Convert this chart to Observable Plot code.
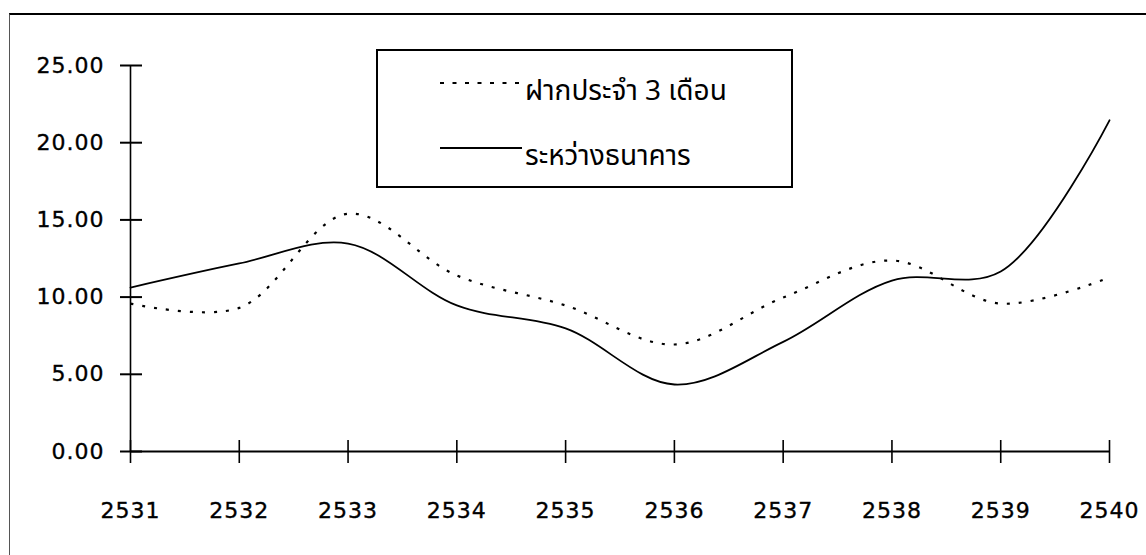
<!DOCTYPE html>
<html>
<head>
<meta charset="utf-8">
<script src="https://cdn.jsdelivr.net/npm/d3@7"></script>
<script src="https://cdn.jsdelivr.net/npm/@observablehq/plot@0.6"></script>
<style>
  html, body { margin: 0; padding: 0; background: #fff; }
  #wrap { position: relative; width: 1146px; height: 555px; overflow: hidden; }
  #frame { position: absolute; left: 9px; top: 13px; width: 1300px; height: 700px;
           border-left: 1.5px solid #555; border-top: 2px solid #000; }
  #chart { position: absolute; left: 0; top: 0; }
  #chart svg text { letter-spacing: 1px; stroke: #000; stroke-width: 0.35px; }
  #legend { position: absolute; left: 376px; top: 49px; }
  #legend text { font-family: "Noto Sans Thai", "Loma", "Garuda", "Norasi", "DejaVu Sans", sans-serif; }
</style>
</head>
<body>
<div id="wrap">
  <div id="frame"></div>
  <div id="chart"></div>
  <div id="legend"></div>
</div>
<script>
// Buddhist-era years on the x axis
const years = [2531, 2532, 2533, 2534, 2535, 2536, 2537, 2538, 2539, 2540];
// 3-month fixed deposit rate (%)
const deposit3m = [9.58, 9.3, 15.4, 11.4, 9.46, 6.93, 9.97, 12.37, 9.58, 11.27];
// Interbank rate (%)
const interbank = [10.62, 12.18, 13.47, 9.46, 7.97, 4.34, 7.1, 11.07, 11.66, 21.45];
// Axis ticks
const yTicks = [0, 5, 10, 15, 20, 25];
const xTicks = years;
// Series names
const seriesDeposit = "ฝากประจำ 3 เดือน";
const seriesInterbank = "ระหว่างธนาคาร";

const rows = [
  ...years.map((year, i) => ({year, value: deposit3m[i], series: seriesDeposit})),
  ...years.map((year, i) => ({year, value: interbank[i], series: seriesInterbank}))
];

const chart = Plot.plot({
  width: 1146,
  height: 555,
  marginLeft: 130,
  marginRight: 37,
  marginTop: 65,
  marginBottom: 104,
  x: {domain: [2531, 2540]},
  y: {domain: [0, 25]},
  style: {fontFamily: "'DejaVu Sans', sans-serif", fontSize: "22px", background: "transparent", color: "#000"},
  marks: [
    // axis lines
    Plot.ruleX([2531], {stroke: "#000", strokeWidth: 1.6}),
    Plot.ruleY([0], {stroke: "#000", strokeWidth: 2}),
    // tick marks crossing the axes
    Plot.axisY({ticks: yTicks, tickSize: 22, dx: 12, tickFormat: () => "", stroke: "#000", strokeWidth: 2, strokeOpacity: 1, label: null}),
    Plot.axisX({ticks: xTicks, tickSize: 23, dy: -11, tickFormat: () => "", stroke: "#000", strokeWidth: 1.6, strokeOpacity: 1, label: null}),
    // tick labels
    Plot.axisY({ticks: yTicks, tickSize: 0, tickPadding: 26, tickFormat: d => d.toFixed(2), fill: "#000", fontSize: 22, label: null}),
    Plot.axisX({ticks: xTicks, tickSize: 0, tickPadding: 51, tickFormat: d => String(d), fill: "#000", fontSize: 22, label: null}),
    // series
    Plot.line(rows.filter(d => d.series === seriesDeposit), {
      x: "year", y: "value", curve: "catmull-rom",
      stroke: "#000", strokeWidth: 2.2, strokeDasharray: "3,9", strokeLinecap: "butt"
    }),
    Plot.line(rows.filter(d => d.series === seriesInterbank), {
      x: "year", y: "value", curve: "catmull-rom",
      stroke: "#000", strokeWidth: 1.8
    })
  ]
});
document.getElementById("chart").appendChild(chart);

// Legend box
const entries = [
  {name: seriesDeposit, dash: "4,8.5", lineY: 34, textY: 51},
  {name: seriesInterbank, dash: null, lineY: 99, textY: 116}
];
const lg = d3.select("#legend").append("svg").attr("width", 420).attr("height", 142);
lg.append("rect").attr("x", 1).attr("y", 1).attr("width", 415).attr("height", 137)
  .attr("fill", "#fff").attr("stroke", "#000").attr("stroke-width", 2);
for (const e of entries) {
  const ln = lg.append("line").attr("x1", 64).attr("x2", 146).attr("y1", e.lineY).attr("y2", e.lineY)
    .attr("stroke", "#000").attr("stroke-width", 2);
  if (e.dash) ln.attr("stroke-dasharray", e.dash);
  lg.append("text").attr("x", 149).attr("y", e.textY).attr("font-size", 28).attr("fill", "#000").text(e.name);
}
</script>
</body>
</html>
